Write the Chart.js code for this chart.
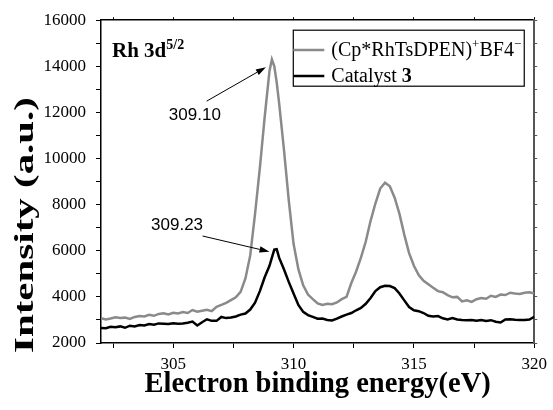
<!DOCTYPE html>
<html><head><meta charset="utf-8">
<script src="https://cdn.jsdelivr.net/npm/chart.js@4"></script>
<style>html,body{margin:0;padding:0;background:#fff}canvas{display:block}</style>
</head><body>
<canvas id="c" width="553" height="410"></canvas>
<script>
// ---- data ----
const energy = [302.0,302.2,302.4,302.6,302.8,303.0,303.2,303.4,303.6,303.8,304.0,304.2,304.4,304.6,304.8,305.0,305.2,305.4,305.6,305.8,306.0,306.2,306.4,306.6,306.8,307.0,307.2,307.4,307.6,307.8,308.0,308.2,308.4,308.6,308.8,309.0,309.1,309.2,309.3,309.4,309.6,309.8,310.0,310.2,310.4,310.6,310.8,311.0,311.2,311.4,311.6,311.8,312.0,312.2,312.4,312.6,312.8,313.0,313.2,313.4,313.6,313.8,314.0,314.2,314.4,314.6,314.8,315.0,315.2,315.4,315.6,315.8,316.0,316.2,316.4,316.6,316.8,317.0,317.2,317.4,317.6,317.8,318.0,318.2,318.4,318.6,318.8,319.0,319.2,319.4,319.6,319.8,320.0];
const precursor = [3080,3020,3060,3120,3080,3100,3040,3130,3170,3150,3220,3180,3260,3290,3240,3310,3280,3340,3300,3430,3360,3400,3440,3380,3570,3650,3740,3860,3980,4220,4800,5800,7600,9600,11800,13800,14300,14000,13300,12400,10400,8200,6300,5200,4500,4100,3900,3720,3650,3700,3680,3760,3900,4000,4600,5100,5700,6400,7300,8050,8700,8950,8800,8300,7600,6700,5900,5350,4950,4700,4550,4400,4250,4200,4080,3980,4000,3800,3850,3780,3900,3950,3920,4050,4000,4100,4080,4180,4150,4130,4180,4200,4150];
const catalyst3 = [2650,2640,2700,2680,2720,2660,2750,2720,2780,2760,2820,2790,2850,2840,2820,2860,2840,2850,2880,2930,2760,2900,3030,2960,2960,3130,3080,3110,3150,3230,3280,3450,3750,4250,4850,5350,5700,6050,6070,5700,5200,4650,4150,3650,3350,3210,3130,3050,3060,3000,2980,3060,3150,3230,3300,3420,3520,3700,3950,4250,4420,4480,4470,4380,4150,3850,3560,3420,3380,3300,3180,3150,3170,3070,3020,3080,3020,3000,2990,3000,2970,3000,2960,2990,2920,2890,3020,3030,3010,3000,3000,3020,3140];
const seriesNames = ['(Cp*RhTsDPEN)\u207ABF4\u207B', 'Catalyst 3'];
const xTickValues = [302.5,305,307.5,310,312.5,315,317.5,320];
const xTickLabels = [305,310,315,320];
const yTickValues = [2000,3000,4000,5000,6000,7000,8000,9000,10000,11000,12000,13000,14000,15000,16000];
const yTickLabels = [2000,4000,6000,8000,10000,12000,14000,16000];
const peakNotes = [
  {text:'309.10', textAt:[305.9,11880], from:[306.39,12490], to:[308.85,13960]},
  {text:'309.23', textAt:[305.16,7110], from:[306.22,6640], to:[309.0,5960]}
];
const yTitle = 'Intensity (a.u.)';
// ---------------------------------------

const SERIF = '"Liberation Serif","Times New Roman",serif';
const SANS = '"Liberation Sans",Arial,sans-serif';
const GRAY = '#8a8a8a';

function drawRuns(ctx, x, y, runs, size, measureOnly) {
  let cx = x;
  for (const r of runs) {
    const s = r.sup ? Math.round(size * 0.66) : size;
    ctx.font = (r.bold ? 'bold ' : '') + s + 'px ' + SERIF;
    if (!measureOnly) ctx.fillText(r.t, cx, r.sup ? y - size * 0.38 : y);
    cx += ctx.measureText(r.t).width;
  }
  return cx - x;
}

const legendRuns = [
  [{t:'(Cp*RhTsDPEN)'},{t:'+',sup:true},{t:'BF4'},{t:'\u2212',sup:true}],
  [{t:'Catalyst '},{t:'3',bold:true}]
];

const decor = {
  id: 'decor',
  afterDraw(chart) {
    const {ctx, chartArea: ca, scales: {x, y}} = chart;
    ctx.save();
    ctx.fillStyle = '#000';
    ctx.textBaseline = 'alphabetic';
    ctx.textAlign = 'left';
    // panel label
    drawRuns(ctx, ca.left + 11, 57, [{t:'Rh 3d',bold:true},{t:'5/2',bold:true,sup:true}], 21);

    // y-axis title (stretched like the original)
    ctx.save();
    ctx.translate(26, ca.bottom - 118);
    ctx.rotate(-Math.PI / 2);
    ctx.font = 'bold 28px ' + SERIF;
    const w = ctx.measureText(yTitle).width;
    ctx.scale(256 / w, 1);
    ctx.textAlign = 'center';
    ctx.textBaseline = 'middle';
    ctx.fillText(yTitle, 0, 0);
    ctx.restore();

    // legend
    const fs = 20;
    let tw = 0;
    for (const r of legendRuns) tw = Math.max(tw, drawRuns(ctx, 0, 0, r, fs, true));
    const right = ca.right - 10, top = ca.top + 10, bottom = ca.top + 66;
    const left = right - (31 + 7 + tw + 3);
    ctx.lineWidth = 1.2;
    ctx.strokeStyle = '#000';
    ctx.strokeRect(left, top, right - left, bottom - top);
    const rowsY = [50, 76];
    chart.data.datasets.forEach((ds, i) => {
      ctx.strokeStyle = ds.borderColor;
      ctx.lineWidth = 2.5;
      ctx.beginPath();
      ctx.moveTo(left, rowsY[i]);
      ctx.lineTo(left + 31, rowsY[i]);
      ctx.stroke();
      ctx.fillStyle = '#000';
      drawRuns(ctx, left + 38, rowsY[i] + 6, legendRuns[i], fs);
    });

    // peak annotations
    ctx.font = '17px ' + SANS;
    ctx.textAlign = 'center';
    ctx.textBaseline = 'middle';
    ctx.strokeStyle = '#000';
    ctx.fillStyle = '#000';
    ctx.lineWidth = 1;
    for (const n of peakNotes) {
      ctx.fillText(n.text, x.getPixelForValue(n.textAt[0]), y.getPixelForValue(n.textAt[1]));
      const x1 = x.getPixelForValue(n.from[0]), y1 = y.getPixelForValue(n.from[1]);
      const x2 = x.getPixelForValue(n.to[0]), y2 = y.getPixelForValue(n.to[1]);
      const a = Math.atan2(y2 - y1, x2 - x1);
      const hl = 10, hw = 3.2;
      ctx.beginPath();
      ctx.moveTo(x1, y1);
      ctx.lineTo(x2 - hl * Math.cos(a), y2 - hl * Math.sin(a));
      ctx.stroke();
      ctx.beginPath();
      ctx.moveTo(x2, y2);
      ctx.lineTo(x2 - hl * Math.cos(a) - hw * Math.sin(a), y2 - hl * Math.sin(a) + hw * Math.cos(a));
      ctx.lineTo(x2 - hl * Math.cos(a) + hw * Math.sin(a), y2 - hl * Math.sin(a) - hw * Math.cos(a));
      ctx.closePath();
      ctx.fill();
    }
    ctx.restore();
  }
};

const pts = arr => arr.map((v, i) => ({x: energy[i], y: v}));
const setTicks = vals => scale => { scale.ticks = vals.map(v => ({value: v})); };

new Chart(document.getElementById('c'), {
  type: 'line',
  data: {
    datasets: [
      {label: seriesNames[0], data: pts(precursor), borderColor: GRAY, borderWidth: 2.5, pointRadius: 0, tension: 0, fill: false},
      {label: seriesNames[1], data: pts(catalyst3), borderColor: '#000', borderWidth: 2.5, pointRadius: 0, tension: 0, fill: false}
    ]
  },
  options: {
    responsive: false,
    animation: false,
    layout: {padding: {left: 0, right: 13, top: 20, bottom: 0}},
    plugins: {legend: {display: false}, tooltip: {enabled: false}, title: {display: false}},
    scales: {
      x: {
        type: 'linear', position: 'bottom', min: 302, max: 320,
        afterBuildTicks: setTicks(xTickValues),
        afterFit: s => { s.height = 67; },
        border: {color: '#000', width: 1.5},
        grid: {drawOnChartArea: false, color: '#000', tickLength: 5, lineWidth: 1},
        ticks: {autoSkip: false, maxRotation: 0, padding: 6, color: '#000', font: {family: SERIF, size: 17},
          callback: v => xTickLabels.includes(v) ? String(v) : ''},
        title: {display: true, text: 'Electron binding energy(eV)', color: '#000',
          font: {family: SERIF, size: 28.5, weight: 'bold', lineHeight: 1.2}, padding: {top: 0, bottom: 8}}
      },
      y: {
        type: 'linear', position: 'left', min: 2000, max: 16000,
        afterBuildTicks: setTicks(yTickValues),
        afterFit: s => { s.width = 101; },
        border: {color: '#000', width: 1.5},
        grid: {drawOnChartArea: false, color: '#000', tickLength: 5, lineWidth: 1},
        ticks: {autoSkip: false, padding: 10, color: '#000', font: {family: SERIF, size: 17},
          callback: v => yTickLabels.includes(v) ? String(v) : ''},
        title: {display: false}
      },
      x2: {
        type: 'linear', position: 'top', min: 302, max: 320,
        afterBuildTicks: setTicks(xTickValues),
        afterFit: s => { s.height = 0; },
        border: {color: '#000', width: 1.5},
        grid: {drawOnChartArea: false, color: '#000', tickLength: 3},
        ticks: {display: false}
      },
      y2: {
        type: 'linear', position: 'right', min: 2000, max: 16000,
        afterBuildTicks: setTicks(yTickValues),
        afterFit: s => { s.width = 0; },
        border: {color: '#555', width: 2},
        grid: {drawOnChartArea: false, color: '#555', tickLength: 3},
        ticks: {display: false}
      }
    }
  },
  plugins: [decor]
});
</script>
</body></html>
